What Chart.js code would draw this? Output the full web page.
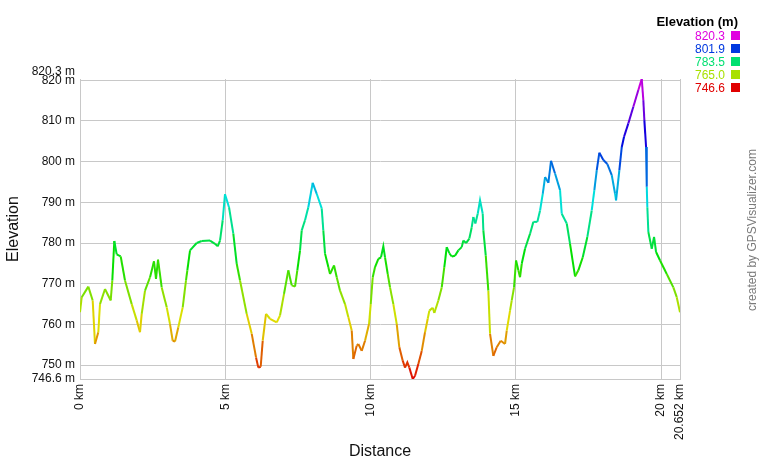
<!DOCTYPE html>
<html>
<head>
<meta charset="utf-8">
<style>
  html, body { margin: 0; padding: 0; background: #fff; }
  #wrap { width: 760px; height: 460px; }
</style>
<script src="https://cdn.jsdelivr.net/npm/chart.js@4.4.1/dist/chart.umd.min.js"></script>
</head>
<body>
<div id="wrap"><canvas id="profile" width="760" height="460"></canvas></div>
<script>
'use strict';

// ── Track profile (distance km / elevation m) ─────────────────
const distKm = [
  0.000, 0.059, 0.286, 0.437, 0.516, 0.630, 0.688, 0.861, 1.057, 1.112,
  1.181, 1.263, 1.401, 1.549, 1.780, 1.952, 2.065, 2.124, 2.238, 2.410,
  2.547, 2.616, 2.685, 2.812, 2.985, 3.098, 3.191, 3.270, 3.384, 3.535,
  3.649, 3.694, 3.787, 4.017, 4.189, 4.475, 4.647, 4.740, 4.819, 4.912,
  4.991, 5.129, 5.277, 5.394, 5.508, 5.738, 5.911, 6.059, 6.138, 6.220,
  6.289, 6.403, 6.540, 6.771, 6.885, 7.022, 7.170, 7.287, 7.401, 7.480,
  7.573, 7.632, 7.745, 7.859, 8.010, 8.148, 8.320, 8.375, 8.434, 8.547,
  8.606, 8.744, 8.837, 8.950, 9.122, 9.236, 9.353, 9.408, 9.525, 9.580,
  9.697, 9.811, 9.948, 10.007, 10.076, 10.155, 10.269, 10.361, 10.441, 10.499,
  10.592, 10.671, 10.785, 10.902, 10.991, 11.108, 11.188, 11.267, 11.336, 11.453,
  11.532, 11.645, 11.763, 11.876, 11.969, 12.024, 12.141, 12.196, 12.334, 12.451,
  12.540, 12.623, 12.713, 12.795, 12.909, 13.022, 13.139, 13.194, 13.287, 13.401,
  13.484, 13.539, 13.608, 13.690, 13.769, 13.862, 13.883, 13.966, 14.055, 14.114,
  14.227, 14.344, 14.482, 14.630, 14.688, 14.802, 14.861, 14.940, 15.009, 15.088,
  15.146, 15.205, 15.318, 15.491, 15.604, 15.742, 15.835, 15.928, 16.007, 16.121,
  16.213, 16.351, 16.523, 16.582, 16.754, 16.867, 17.040, 17.153, 17.305, 17.463,
  17.614, 17.704, 17.787, 17.876, 18.014, 18.152, 18.303, 18.417, 18.451, 18.565,
  18.648, 18.726, 18.874, 19.046, 19.218, 19.335, 19.390, 19.425, 19.483, 19.508,
  19.528, 19.563, 19.680, 19.759, 19.828, 19.966, 20.196, 20.423, 20.540, 20.652
];
const elevM = [
  763.0, 766.7, 769.3, 765.9, 755.2, 758.1, 765.0, 768.7, 765.9, 770.8,
  780.5, 777.2, 776.7, 770.8, 765.0, 761.0, 758.1, 762.6, 768.3, 771.6,
  775.5, 771.2, 775.9, 769.1, 764.2, 760.1, 756.0, 755.8, 759.3, 764.2,
  770.8, 773.3, 778.2, 780.0, 780.5, 780.6, 779.8, 779.2, 780.6, 785.6,
  792.0, 788.8, 782.3, 774.9, 770.8, 762.6, 757.7, 751.9, 749.4, 749.6,
  756.0, 762.6, 761.4, 760.5, 762.2, 767.5, 773.3, 769.6, 769.3, 773.3,
  778.2, 783.1, 785.6, 788.8, 794.8, 792.1, 788.5, 783.1, 777.4, 774.1,
  772.4, 774.5, 771.6, 768.3, 765.0, 761.8, 758.5, 751.5, 754.8, 755.2,
  753.5, 756.0, 760.1, 765.0, 771.6, 774.1, 776.1, 776.5, 779.2, 776.5,
  772.4, 769.1, 765.0, 760.1, 754.4, 751.1, 749.4, 750.7, 749.4, 746.6,
  747.4, 750.3, 753.5, 758.1, 761.4, 763.4, 764.1, 762.8, 765.9, 769.1,
  774.1, 779.0, 777.5, 776.7, 776.9, 778.2, 779.0, 780.6, 780.0, 781.1,
  783.9, 786.4, 784.8, 787.2, 790.5, 787.2, 783.1, 776.9, 768.3, 757.7,
  752.3, 754.4, 756.0, 755.2, 758.5, 763.4, 765.9, 769.1, 775.7, 773.3,
  771.6, 774.9, 778.6, 782.3, 785.2, 785.2, 788.0, 792.1, 796.2, 794.8,
  800.2, 797.1, 793.0, 787.2, 784.8, 779.8, 771.8, 773.3, 776.5, 781.5,
  788.0, 793.0, 797.9, 802.2, 800.4, 799.4, 796.7, 792.1, 790.5, 797.9,
  803.6, 806.1, 809.4, 813.5, 817.6, 820.3, 815.1, 810.2, 803.6, 793.8,
  788.8, 782.7, 778.6, 781.5, 777.8, 775.7, 772.4, 769.1, 766.7, 763.0
];

// ── Axes / legend ─────────────────────────────────────────────
const ELEV_MIN = 746.6;
const ELEV_MAX = 820.3;
const DIST_MAX = 20.652;
const yTickVals = [746.6, 750, 760, 770, 780, 790, 800, 810, 820, 820.3];
const xTickVals = [0, 5, 10, 15, 20, 20.652];
const legendVals = [820.3, 801.9, 783.5, 765.0, 746.6];

const FONT = '"Liberation Sans", Arial, sans-serif';
const GRID = '#c8c8c8';

// rouge (min) → magenta (max), teinte linéaire
function elevColor(v) {
  const t = Math.max(0, Math.min(1, (v - ELEV_MIN) / (ELEV_MAX - ELEV_MIN)));
  return `hsl(${(t * 300).toFixed(1)}, 100%, 44%)`;
}

const overlayPlugin = {
  id: 'overlay',
  afterDraw(chart) {
    const ctx = chart.ctx;
    ctx.save();
    // legend
    ctx.textAlign = 'right';
    ctx.textBaseline = 'alphabetic';
    ctx.fillStyle = '#000';
    ctx.font = `bold 13px ${FONT}`;
    ctx.fillText('Elevation (m)', 738, 26);
    ctx.font = `12px ${FONT}`;
    legendVals.forEach((v, i) => {
      const y = 40 + i * 13;
      ctx.fillStyle = elevColor(v);
      ctx.fillText(v.toFixed(1), 725, y);
      ctx.fillRect(731, y - 9, 9, 9);
    });
    // credit
    ctx.translate(753, 230);
    ctx.rotate(-Math.PI / 2);
    ctx.textAlign = 'center';
    ctx.textBaseline = 'middle';
    ctx.fillStyle = '#7a7a7a';
    ctx.font = `12px ${FONT}`;
    ctx.fillText('created by GPSVisualizer.com', 0, 0);
    ctx.restore();
  }
};

new Chart(document.getElementById('profile').getContext('2d'), {
  type: 'line',
  data: {
    datasets: [{
      data: distKm.map((d, i) => ({ x: d, y: elevM[i] })),
      borderWidth: 2,
      borderColor: elevColor(780),
      pointRadius: 0,
      tension: 0,
      segment: {
        borderColor: c => elevColor((c.p0.parsed.y + c.p1.parsed.y) / 2)
      }
    }]
  },
  options: {
    responsive: false,
    animation: false,
    layout: { padding: { top: 79, right: 80, left: 0, bottom: 0 } },
    plugins: { legend: { display: false }, tooltip: { enabled: false } },
    scales: {
      x: {
        type: 'linear',
        min: 0,
        max: DIST_MAX,
        afterBuildTicks: s => { s.ticks = xTickVals.map(v => ({ value: v })); },
        afterFit: s => { s.height = 81; },
        ticks: {
          autoSkip: false,
          minRotation: 90,
          maxRotation: 90,
          padding: 5,
          color: '#111',
          font: { family: FONT, size: 12 },
          callback: v => v + ' km'
        },
        grid: { color: GRID, drawTicks: false },
        border: { color: GRID },
        title: {
          display: true,
          text: 'Distance',
          color: '#111',
          padding: { top: 0, bottom: 0 },
          font: { family: FONT, size: 16, lineHeight: 1 }
        }
      },
      y: {
        type: 'linear',
        min: ELEV_MIN,
        max: ELEV_MAX,
        afterBuildTicks: s => { s.ticks = yTickVals.map(v => ({ value: v })); },
        afterFit: s => { s.width = 80; },
        ticks: {
          autoSkip: false,
          padding: 5,
          color: '#111',
          font: { family: FONT, size: 12 },
          callback: v => v === ELEV_MAX ? [v + ' m', ''] : v + ' m'
        },
        grid: {
          color: c => (c.tick && c.tick.value === ELEV_MAX) ? 'rgba(0,0,0,0)' : GRID,
          drawTicks: false
        },
        border: { color: GRID },
        title: {
          display: true,
          text: 'Elevation',
          color: '#111',
          padding: { top: 6, bottom: 0 },
          font: { family: FONT, size: 16, lineHeight: 1 }
        }
      }
    }
  },
  plugins: [overlayPlugin]
});
</script>
</body>
</html>
